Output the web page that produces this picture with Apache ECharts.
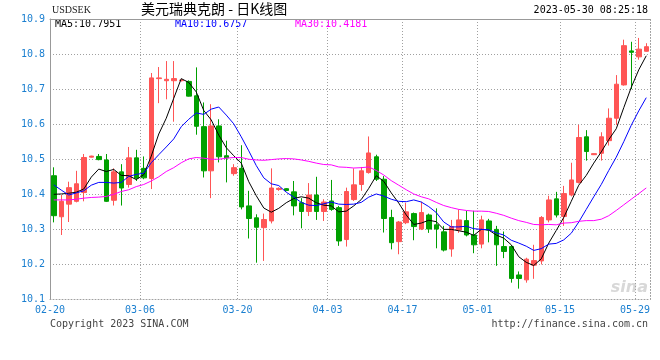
<!DOCTYPE html>
<html><head><meta charset="utf-8">
<script src="https://cdn.jsdelivr.net/npm/echarts@6/dist/echarts.min.js"></script>
<style>html,body{margin:0;padding:0;background:#fff}#c{width:660px;height:360px}</style>
</head><body><div id="c"></div>
<script>
const dates = ['02-20','02-21','02-22','02-23','02-24','02-25','02-27','02-28','03-01','03-02','03-03','03-04',
'03-06','03-07','03-08','03-09','03-10','03-11','03-13','03-14','03-15','03-16','03-17','03-18','03-19',
'03-20','03-21','03-22','03-23','03-24','03-25','03-27','03-28','03-29','03-30','03-31','04-01',
'04-03','04-04','04-05','04-06','04-07','04-10','04-11','04-12','04-13','04-14',
'04-17','04-18','04-19','04-20','04-21','04-24','04-25','04-26','04-27','04-28',
'05-01','05-02','05-03','05-04','05-05','05-08','05-09','05-10','05-11','05-12','05-13',
'05-15','05-16','05-17','05-18','05-19','05-22','05-23','05-24','05-25','05-26','05-29','05-30'];
const labelDates = ['02-20','03-06','03-20','04-03','04-17','05-01','05-15','05-29'];
const opens = [10.453,10.336,10.372,10.380,10.405,10.506,10.508,10.498,10.383,10.464,10.428,10.504,10.474,10.445,10.730,10.724,10.724,10.724,10.722,10.681,
10.593,10.467,10.595,10.510,10.459,10.474,10.367,10.333,10.305,10.324,10.414,10.416,10.407,10.376,10.351,10.398,10.351,10.381,10.362,10.271,
10.385,10.428,10.462,10.507,10.443,10.334,10.265,10.319,10.345,10.301,10.341,10.313,10.293,10.244,10.298,10.325,10.284,10.258,10.324,10.300,
10.251,10.251,10.170,10.156,10.198,10.210,10.327,10.387,10.337,10.398,10.434,10.564,10.513,10.517,10.553,10.617,10.712,10.809,10.792,10.808];
const closes = [10.339,10.380,10.419,10.430,10.505,10.509,10.499,10.380,10.464,10.418,10.504,10.446,10.447,10.732,10.732,10.728,10.730,10.726,10.680,10.594,
10.467,10.595,10.507,10.504,10.476,10.364,10.331,10.306,10.328,10.418,10.417,10.411,10.367,10.351,10.398,10.351,10.378,10.357,10.267,10.408,
10.427,10.467,10.518,10.443,10.331,10.262,10.321,10.350,10.308,10.348,10.301,10.301,10.241,10.308,10.327,10.284,10.256,10.327,10.298,10.256,
10.237,10.160,10.160,10.215,10.211,10.334,10.384,10.341,10.402,10.441,10.562,10.522,10.516,10.564,10.617,10.714,10.824,10.805,10.814,10.821];
const lows = [10.320,10.284,10.321,10.377,10.380,10.505,10.497,10.378,10.368,10.368,10.419,10.438,10.443,10.415,10.660,10.671,10.607,10.722,10.679,10.570,
10.448,10.389,10.491,10.434,10.453,10.357,10.274,10.205,10.210,10.317,10.410,10.409,10.340,10.303,10.338,10.327,10.324,10.353,10.253,10.251,
10.381,10.410,10.459,10.438,10.291,10.243,10.229,10.315,10.269,10.298,10.290,10.246,10.237,10.222,10.290,10.280,10.232,10.246,10.263,10.196,
10.218,10.148,10.131,10.148,10.159,10.200,10.320,10.334,10.310,10.394,10.431,10.496,10.512,10.496,10.539,10.598,10.710,10.700,10.784,10.807];
const highs = [10.477,10.398,10.436,10.467,10.515,10.510,10.515,10.515,10.474,10.486,10.535,10.527,10.508,10.746,10.763,10.780,10.780,10.728,10.725,10.762,
10.662,10.657,10.614,10.553,10.486,10.540,10.410,10.343,10.345,10.474,10.420,10.418,10.438,10.389,10.432,10.450,10.386,10.441,10.367,10.419,
10.474,10.478,10.565,10.513,10.452,10.356,10.324,10.376,10.348,10.379,10.345,10.360,10.310,10.327,10.357,10.353,10.353,10.339,10.330,10.310,
10.294,10.255,10.180,10.219,10.256,10.338,10.396,10.407,10.424,10.490,10.598,10.583,10.517,10.577,10.645,10.740,10.841,10.835,10.846,10.831];
const ma5 = [10.400,10.401,10.403,10.406,10.415,10.449,10.472,10.465,10.471,10.454,10.453,10.442,10.456,10.509,10.572,10.617,10.674,10.730,10.719,10.692,
10.639,10.612,10.569,10.533,10.510,10.489,10.436,10.396,10.361,10.349,10.360,10.376,10.388,10.393,10.389,10.376,10.369,10.367,10.350,10.352,
10.367,10.385,10.417,10.453,10.437,10.404,10.375,10.341,10.314,10.318,10.326,10.322,10.300,10.300,10.296,10.292,10.283,10.300,10.298,10.284,
10.275,10.256,10.222,10.206,10.197,10.216,10.261,10.297,10.334,10.380,10.426,10.454,10.489,10.521,10.556,10.587,10.647,10.705,10.755,10.7951];
const ma10 = [10.427,10.412,10.398,10.404,10.410,10.426,10.434,10.434,10.432,10.434,10.451,10.457,10.460,10.490,10.513,10.535,10.558,10.593,10.614,10.632,
10.628,10.643,10.649,10.626,10.601,10.564,10.524,10.482,10.447,10.430,10.425,10.406,10.392,10.377,10.369,10.368,10.373,10.378,10.372,10.371,
10.372,10.377,10.392,10.401,10.395,10.386,10.380,10.379,10.384,10.378,10.365,10.348,10.321,10.307,10.307,10.309,10.302,10.300,10.299,10.290,
10.284,10.269,10.261,10.252,10.240,10.245,10.258,10.260,10.270,10.289,10.321,10.357,10.393,10.428,10.468,10.506,10.550,10.597,10.638,10.6757];
const ma30 = [10.384,10.384,10.384,10.386,10.389,10.391,10.392,10.394,10.400,10.408,10.413,10.422,10.428,10.438,10.450,10.465,10.476,10.490,10.501,10.505,
10.503,10.500,10.500,10.503,10.505,10.505,10.500,10.498,10.497,10.499,10.501,10.502,10.501,10.498,10.494,10.489,10.485,10.484,10.478,10.477,
10.475,10.476,10.478,10.468,10.455,10.439,10.426,10.413,10.401,10.393,10.387,10.377,10.368,10.362,10.357,10.354,10.352,10.352,10.351,10.346,
10.340,10.332,10.325,10.320,10.314,10.313,10.314,10.313,10.318,10.319,10.323,10.325,10.325,10.329,10.339,10.354,10.370,10.386,10.402,10.4181];
const maLegend = ['MA5:10.7951','MA10:10.6757','MA30:10.4181'];

const candles = opens.map((o,i)=>[o, closes[i], lows[i], highs[i]]);
const chart = echarts.init(document.getElementById('c'), null, {renderer:'canvas'});
const mono = '"DejaVu Sans Mono", monospace';
const gridColor = '#a0a0a0';
chart.setOption({
  animation:false,
  grid:{left:50, right:10, top:19, bottom:60.5},
  xAxis:[{
    type:'category', data:dates, boundaryGap:true,
    axisLine:{show:true, lineStyle:{color:gridColor, type:[1,2]}},
    axisTick:{show:false},
    axisLabel:{interval:(i,v)=>labelDates.includes(v), color:'#1a7fd0', fontFamily:mono, fontSize:10, margin:6, padding:[0,7.5,0,0]},
    splitLine:{show:true, interval:(i,v)=>labelDates.includes(v) && i>0, lineStyle:{color:gridColor, type:[1,2], width:1}}
  },{
    type:'category', data:dates, position:'top', boundaryGap:true,
    axisLine:{show:true, lineStyle:{color:'#999', width:1}}, axisTick:{show:false}, axisLabel:{show:false}, splitLine:{show:false}
  }],
  yAxis:[{
    type:'value', min:10.1, max:10.9, interval:0.1, position:'left',
    axisLine:{show:true, lineStyle:{color:'#999', width:1}}, axisTick:{show:false},
    axisLabel:{color:'#1a7fd0', fontFamily:mono, fontSize:10, margin:5, formatter:v=>v.toFixed(1)},
    splitLine:{show:true, lineStyle:{color:gridColor, type:[1,2], width:1}}
  },{
    type:'value', min:10.1, max:10.9, interval:0.1, position:'right',
    axisLine:{show:true, lineStyle:{color:gridColor, type:[1,2]}}, axisTick:{show:false}, axisLabel:{show:false}, splitLine:{show:false}
  }],
  series:[{
    type:'candlestick', data:candles, barWidth:5,
    itemStyle:{color:'#ff5555', color0:'#00a000', borderColor:'#ff5555', borderColor0:'#00a000', borderWidth:1}
  },{
    type:'line', data:ma5, showSymbol:false, lineStyle:{color:'#000000', width:1}, itemStyle:{color:'#000'}
  },{
    type:'line', data:ma10, showSymbol:false, lineStyle:{color:'#0000ff', width:1}, itemStyle:{color:'#00f'}
  },{
    type:'line', data:ma30, showSymbol:false, lineStyle:{color:'#ff00ff', width:1}, itemStyle:{color:'#f0f'}
  }],
  graphic:[
    {type:'text', left:52, top:5, style:{text:'USDSEK', font:'10px "Liberation Serif", serif', fill:'#222'}},
    {type:'text', left:141, top:2, style:{text:'美元瑞典克朗 - 日K线图', font:'14px "Noto Sans CJK SC"', fill:'#000'}},
    {type:'text', right:12, top:5, style:{text:'2023-05-30 08:25:18', font:'10px '+mono, fill:'#000'}},
    {type:'text', left:55, top:19, style:{text:maLegend[0], font:'10px '+mono, fill:'#000'}},
    {type:'text', left:175, top:19, style:{text:maLegend[1], font:'10px '+mono, fill:'#0000ff'}},
    {type:'text', left:295, top:19, style:{text:maLegend[2], font:'10px '+mono, fill:'#ff00ff'}},
    {type:'text', left:50, top:319, style:{text:'Copyright 2023 SINA.COM', font:'10px '+mono, fill:'#444'}},
    {type:'text', right:12, top:319, style:{text:'http://finance.sina.com.cn', font:'10px '+mono, fill:'#444'}},
    {type:'text', right:12, top:280, style:{text:'sina', font:'italic bold 16px "DejaVu Sans"', fill:'#d8d8d8'}}
  ]
});
</script></body></html>
